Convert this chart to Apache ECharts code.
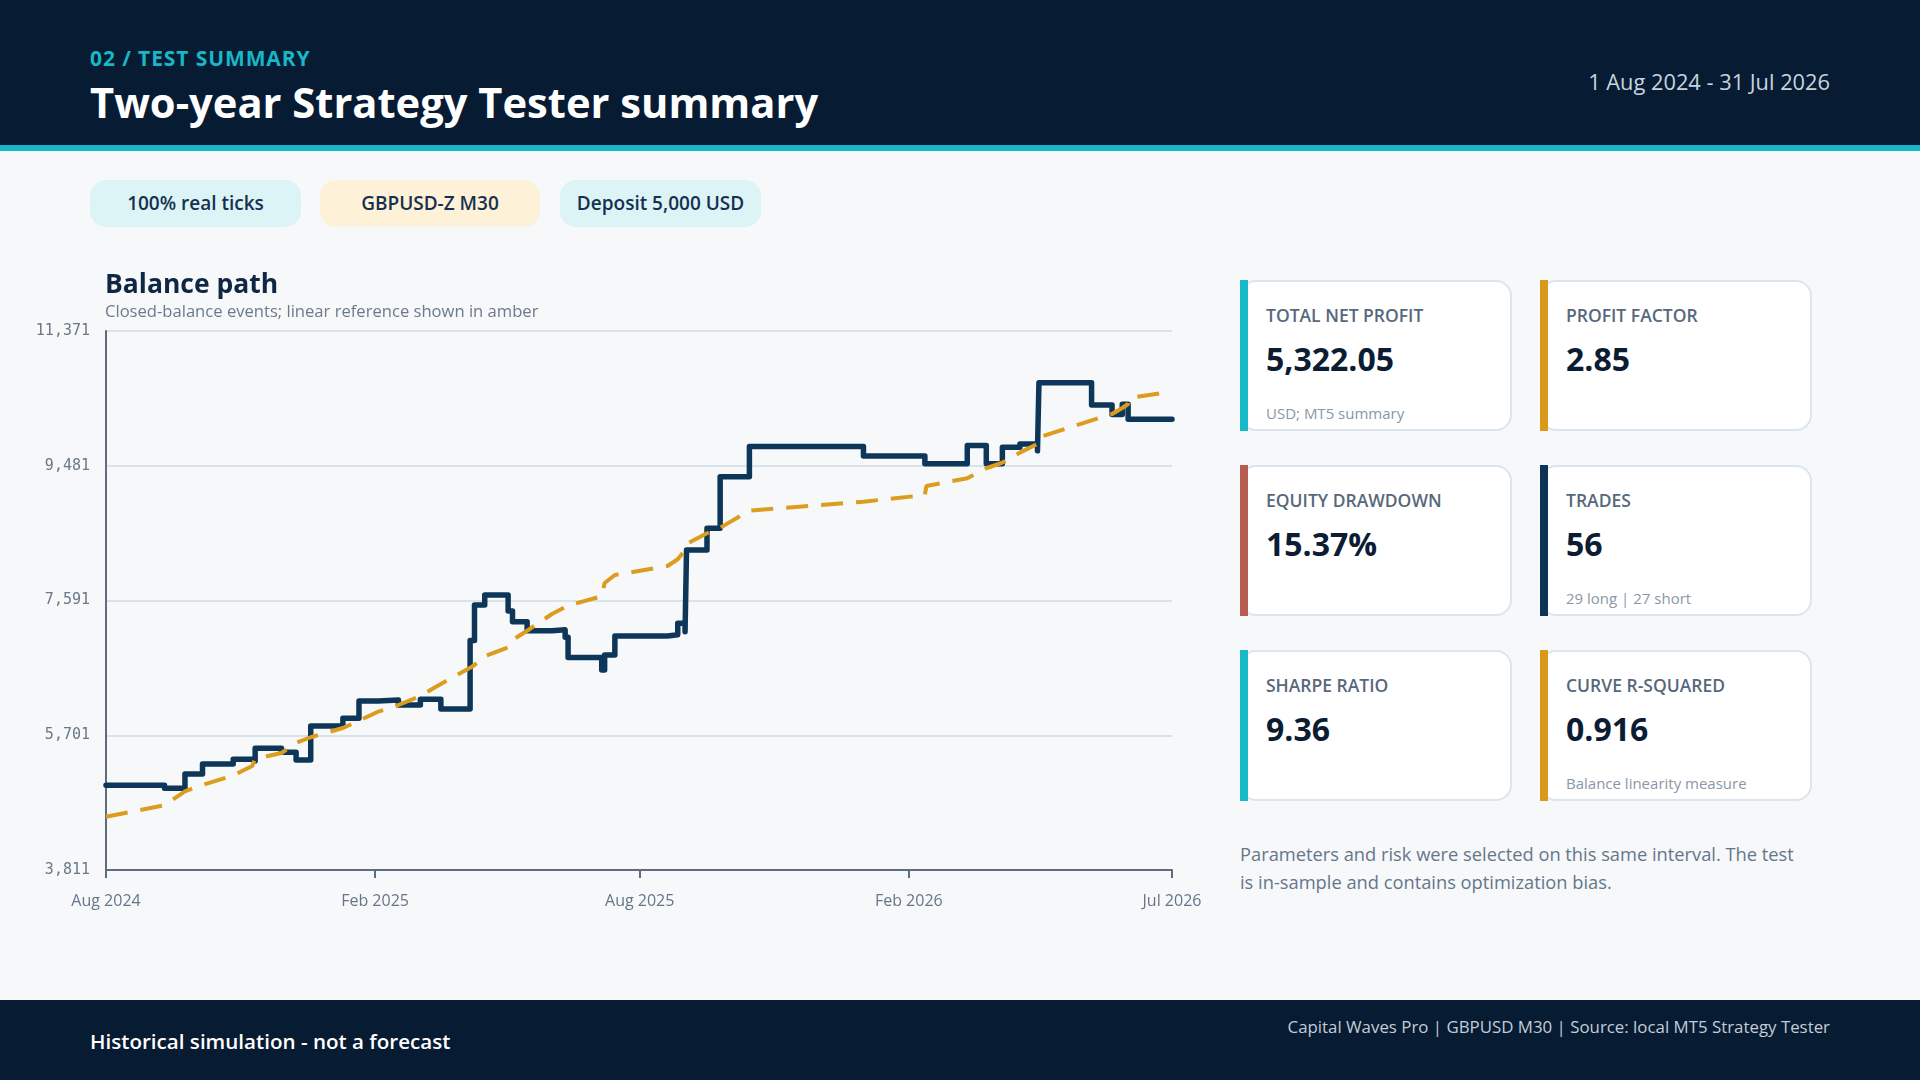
<!DOCTYPE html>
<html>
<head>
<meta charset="utf-8">
<script src="https://cdn.jsdelivr.net/npm/echarts@6.0.0/dist/echarts.min.js"></script>
<style>
  html, body { margin: 0; padding: 0; }
  body { width: 1920px; height: 1080px; background: #f6f8fa; position: relative; overflow: hidden;
         font-family: 'Open Sans', sans-serif; }
  .abs { position: absolute; white-space: nowrap; line-height: normal; }
  #header { position: absolute; left: 0; top: 0; width: 1920px; height: 145px; background: #071b33; }
  #stripe { position: absolute; left: 0; top: 145px; width: 1920px; height: 6px; background: #17b8c7; }
  #kicker { left: 90px; top: 44px; font-size: 21px; font-weight: 700; color: #19b6c5; letter-spacing: 0.9px; }
  #title { left: 90px; top: 73px; font-size: 41.7px; font-weight: 700; color: #ffffff; }
  #period { right: 90px; top: 67px; font-size: 21.8px; color: #c8d3de; }
  .chip { position: absolute; top: 180px; height: 47px; line-height: 47px; border-radius: 16px;
          font-size: 19px; font-weight: 600; color: #16304f; text-align: center; }
  #chart { position: absolute; left: 0; top: 250px; width: 1240px; height: 720px; }
  .card { position: absolute; width: 268px; height: 147px; background: #ffffff;
          border: 2px solid #dce5ed; border-radius: 16px; }
  .card .bar { position: absolute; left: -2px; top: -2px; width: 8px; height: 151px; }
  .card .lbl { position: absolute; left: 24px; top: 21px; font-size: 17.5px; font-weight: 600; color: #58687b; white-space: nowrap; }
  .card .val { position: absolute; left: 24px; top: 55px; font-size: 32px; font-weight: 700; color: #0b1c33; white-space: nowrap; }
  .card .sub { position: absolute; left: 24px; top: 121px; font-size: 15px; color: #8a97a6; white-space: nowrap; }
  #note { position: absolute; left: 1240px; top: 840px; width: 560px; font-size: 18.3px; line-height: 28px; color: #66768a; }
  #footer { position: absolute; left: 0; top: 1000px; width: 1920px; height: 80px; background: #071b33; }
  #footLeft { left: 90px; top: 1027px; font-size: 20.6px; font-weight: 600; color: #ffffff; }
  #footRight { right: 90px; top: 1015px; font-size: 16.85px; color: #c3cdd8; }
</style>
</head>
<body>
<div id="header"></div>
<div id="stripe"></div>
<div id="kicker" class="abs">02 / TEST SUMMARY</div>
<div id="title" class="abs">Two-year Strategy Tester summary</div>
<div id="period" class="abs">1 Aug 2024 - 31 Jul 2026</div>
<div id="chips"></div>
<div id="chart"></div>
<div id="cards"></div>
<div id="note">Parameters and risk were selected on this same interval. The test is in-sample and contains optimization bias.</div>
<div id="footer"></div>
<div id="footLeft" class="abs">Historical simulation - not a forecast</div>
<div id="footRight" class="abs">Capital Waves Pro | GBPUSD M30 | Source: local MT5 Strategy Tester</div>

<script>
// closed-balance events
const eventDates = [
  '2024-08-01', '2024-09-10', '2024-09-24', '2024-10-06', '2024-10-27', '2024-11-09', '2024-11-11',
  '2024-11-29', '2024-12-09', '2024-12-19', '2025-01-10', '2025-01-21', '2025-02-03', '2025-02-17',
  '2025-03-04', '2025-03-18', '2025-04-07', '2025-04-10', '2025-04-17', '2025-05-03', '2025-05-06',
  '2025-05-16', '2025-06-02', '2025-06-11', '2025-06-13', '2025-07-06', '2025-07-08', '2025-07-15',
  '2025-08-20', '2025-08-27', '2025-09-01', '2025-09-02', '2025-09-16', '2025-09-25', '2025-10-15',
  '2026-01-01', '2026-02-12', '2026-02-13', '2026-03-13', '2026-03-26', '2026-04-06', '2026-04-18',
  '2026-04-30', '2026-05-01', '2026-06-06', '2026-06-20', '2026-06-27', '2026-07-01', '2026-07-02',
  '2026-07-31'
];
const balance = [
  5000, 4957, 5158, 5298, 5364, 5340, 5518, 5462, 5354, 5831,
  5939, 6181, 6195, 6125, 6205, 6069, 7030, 7528, 7668, 7444,
  7294, 7167, 7180, 7074, 6793, 6616, 6826, 7093, 7110, 7271,
  7154, 8299, 8603, 9328, 9750, 9617, 9510, 9510, 9765, 9510,
  9740, 9786, 9690, 10644, 10333, 10200, 10345, 10132, 10132, 10132
];
const linearRef = [
  4559, 4720, 4915, 5003, 5137, 5270, 5368, 5452, 5593, 5673,
  5803, 5905, 6031, 6125, 6252, 6420, 6647, 6687, 6810, 6933,
  7037, 7167, 7402, 7500, 7520, 7650, 7837, 7949, 8075, 8169,
  8300, 8383, 8534, 8611, 8850, 8977, 9070, 9197, 9306, 9446,
  9525, 9665, 9787, 9880, 10117, 10207, 10291, 10347, 10432, 10521
];

const axisStart = '2024-08-01';
const axisEnd = '2026-07-31';
const xTickDates = ['2024-08-01', '2025-02-01', '2025-08-01', '2026-02-01', '2026-07-31'];
const xTickLabels = ['Aug 2024', 'Feb 2025', 'Aug 2025', 'Feb 2026', 'Jul 2026'];
const yAxisMin = 3811;
const yAxisMax = 11371;
const yTickLabels = ['3,811', '5,701', '7,591', '9,481', '11,371'];

const chipLabels = ['100% real ticks', 'GBPUSD-Z M30', 'Deposit 5,000 USD'];
const chipColors = ['#dcf4f6', '#fdf2d7', '#dcf4f6'];

const cardLabels = ['TOTAL NET PROFIT', 'PROFIT FACTOR', 'EQUITY DRAWDOWN', 'TRADES', 'SHARPE RATIO', 'CURVE R-SQUARED'];
const cardValues = ['5,322.05', '2.85', '15.37%', '56', '9.36', '0.916'];
const cardNotes = ['USD; MT5 summary', '', '', '29 long | 27 short', '', 'Balance linearity measure'];
const cardColors = ['#17b8c7', '#d99a1c', '#b75c50', '#0d3357', '#17b8c7', '#d99a1c'];

// chips
const chipLefts = [90, 320, 560];
const chipWidths = [211, 220, 201];
const chipBox = document.getElementById('chips');
chipLabels.forEach((t, i) => {
  const d = document.createElement('div');
  d.className = 'chip';
  d.style.left = chipLefts[i] + 'px';
  d.style.width = chipWidths[i] + 'px';
  d.style.background = chipColors[i];
  d.textContent = t;
  chipBox.appendChild(d);
});

// metric cards, two columns by three rows
const cardBox = document.getElementById('cards');
cardLabels.forEach((t, i) => {
  const card = document.createElement('div');
  card.className = 'card';
  card.style.left = (i % 2 === 0 ? 1240 : 1540) + 'px';
  card.style.top = (280 + Math.floor(i / 2) * 185) + 'px';
  card.innerHTML = '<div class="bar" style="background:' + cardColors[i] + '"></div>' +
    '<div class="lbl">' + t + '</div>' +
    '<div class="val">' + cardValues[i] + '</div>' +
    '<div class="sub">' + cardNotes[i] + '</div>';
  cardBox.appendChild(card);
});

const toTime = (s) => new Date(s + 'T00:00:00').getTime();
const xTickValues = xTickDates.map(toTime);

const balanceData = eventDates.map((d, i) => [toTime(d), balance[i]]);
const refData = eventDates.map((d, i) => [toTime(d), linearRef[i]]);

const chartDom = document.getElementById('chart');
const myChart = echarts.init(chartDom, null, { renderer: 'canvas' });

const option = {
  animation: false,
  title: {
    text: 'Balance path',
    subtext: 'Closed-balance events; linear reference shown in amber',
    left: 105,
    top: 22,
    padding: 0,
    itemGap: 5,
    textStyle: { fontFamily: 'Open Sans', fontSize: 26.5, fontWeight: 700, color: '#0f2744' },
    subtextStyle: { fontFamily: 'Open Sans', fontSize: 16.6, color: '#6c7a8b' }
  },
  grid: { left: 106, top: 81, width: 1066, height: 539 },
  xAxis: {
    type: 'value',
    min: toTime(axisStart),
    max: toTime(axisEnd),
    axisLine: { onZero: false, lineStyle: { color: '#5d6c7e', width: 2 } },
    axisTick: { show: true, customValues: xTickValues, length: 8, lineStyle: { color: '#5d6c7e', width: 2 } },
    axisLabel: {
      customValues: xTickValues,
      margin: 23,
      fontFamily: 'Open Sans',
      fontSize: 16,
      color: '#66768a',
      formatter: (v) => {
        let best = 0;
        xTickValues.forEach((t, i) => { if (Math.abs(t - v) < Math.abs(xTickValues[best] - v)) best = i; });
        return xTickLabels[best];
      }
    },
    splitLine: { show: false }
  },
  yAxis: [
    {
      // label / gridline axis: one step per tick label
      type: 'value',
      min: 0,
      max: yTickLabels.length - 1,
      interval: 1,
      axisLine: { show: true, lineStyle: { color: '#5d6c7e', width: 2 } },
      axisTick: { show: false },
      axisLabel: {
        margin: 16,
        fontFamily: 'DejaVu Sans Mono',
        fontSize: 15,
        color: '#6b7888',
        formatter: (v) => yTickLabels[v]
      },
      splitLine: { lineStyle: { color: '#d9e3eb', width: 2 } }
    },
    {
      type: 'value',
      min: yAxisMin,
      max: yAxisMax,
      show: false,
      splitLine: { show: false }
    }
  ],
  series: [
    {
      name: 'Balance',
      type: 'line',
      yAxisIndex: 1,
      step: 'end',
      data: balanceData,
      showSymbol: false,
      lineStyle: { color: '#0d3658', width: 5.5, cap: 'round', join: 'round' },
      z: 2
    },
    {
      name: 'Linear reference',
      type: 'line',
      yAxisIndex: 1,
      data: refData,
      showSymbol: false,
      lineStyle: { color: '#dc9c1e', width: 4, type: [22, 13] },
      z: 3
    }
  ]
};

if (option && typeof option === 'object') {
  myChart.setOption(option);
}
window.addEventListener('resize', myChart.resize);
</script>
</body>
</html>
